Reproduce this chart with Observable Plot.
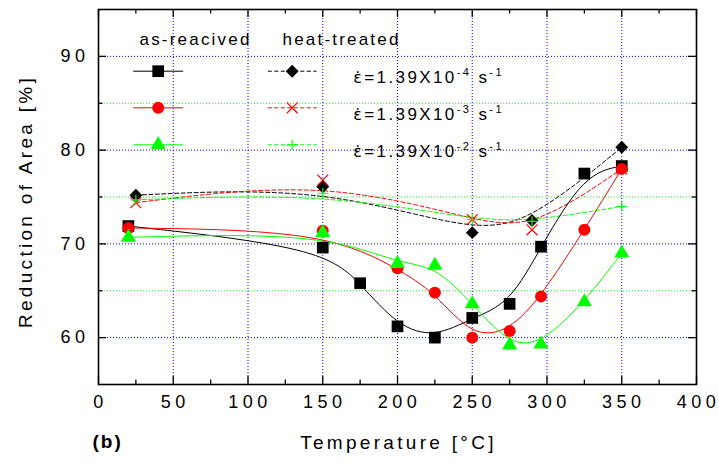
<!DOCTYPE html>
<html>
<head>
<meta charset="utf-8">
<script src="https://cdn.jsdelivr.net/npm/d3@7"></script>
<script src="https://cdn.jsdelivr.net/npm/@observablehq/plot@0.6"></script>
<style>
html, body { margin: 0; padding: 0; background: #fff; }
#chart { width: 719px; height: 469px; }
</style>
</head>
<body>
<div id="chart"></div>
<script>
// ---------------- data ----------------
const arTempBlack = [20, 150, 175, 200, 225, 250, 275, 296, 325, 350];
const arBlack     = [71.9, 69.6, 65.8, 61.2, 60.0, 62.1, 63.6, 69.7, 77.5, 78.3];
const arTempRG    = [20, 150, 200, 225, 250, 275, 296, 325, 350];
const arRed       = [71.7, 71.4, 67.4, 64.8, 60.0, 60.7, 64.4, 71.5, 78.0];
const arGreen     = [70.7, 71.2, 67.9, 67.7, 63.6, 59.2, 59.3, 63.8, 69.0];

const htTemp  = [25, 150, 250, 290, 350];
const htBlack = [75.2, 76.1, 71.2, 72.5, 80.3];
const htRed   = [74.4, 76.8, 72.6, 71.5, 78.0];
const htGreen = [74.7, 75.4, 72.6, 72.4, 74.0];

const groupLabels = ["as-reacived", "heat-treated"];
const strainMantissa = ["1.39", "1.39", "1.39"];
const strainExponent = ["-4", "-3", "-2"];

const xTicks = [0, 50, 100, 150, 200, 250, 300, 350, 400];
const xMinor = [25, 75, 125, 175, 225, 275, 325, 375];
const yTicks = [60, 70, 80, 90];
const yMinor = [65, 75, 85];
const xDomain = [0, 400];
const yDomain = [55, 95];
const xTitle = "Temperature [°C]";
const yTitle = "Reduction of Area [%]";
const panelTag = "(b)";

// ---------------- styles ----------------
const BLACK = "#000000", RED = "#ff0000", GREEN = "#00ff00", BLUE = "#0000ff";
const toRows = (xs, ys) => xs.map((x, i) => ({x, y: ys[i]}));

const asReceived = [
  {rows: toRows(arTempBlack, arBlack), color: BLACK, symbol: "square",   r: 6.6},
  {rows: toRows(arTempRG, arRed),      color: RED,   symbol: "circle",   r: 6.0},
  {rows: toRows(arTempRG, arGreen),    color: GREEN, symbol: "triangle", r: 5.6}
];
const heatTreated = [
  {rows: toRows(htTemp, htBlack), color: BLACK, symbol: "diamond2", r: 5.8, filled: true},
  {rows: toRows(htTemp, htRed),   color: RED,   symbol: "times",    r: 5.0, filled: false},
  {rows: toRows(htTemp, htGreen), color: GREEN, symbol: "plus",     r: 3.4, filled: false}
];

const DASH = "4,2.5";
const segment = (half) => ({draw(ctx) { ctx.moveTo(-half, 0); ctx.lineTo(half, 0); }});

const marks = [];

// grid
marks.push(Plot.ruleX(xTicks.filter(v => v > xDomain[0] && v < xDomain[1]), {stroke: BLUE, strokeWidth: 1, strokeDasharray: "1,2"}));
marks.push(Plot.ruleY(yTicks, {stroke: BLUE, strokeWidth: 1, strokeDasharray: "1,2"}));
marks.push(Plot.ruleY(yMinor, {stroke: GREEN, strokeWidth: 1, strokeDasharray: "1,2"}));

// heat-treated dashed curves
heatTreated.forEach(s => {
  marks.push(Plot.line(s.rows, {x: "x", y: "y", stroke: s.color, strokeWidth: 1, strokeDasharray: DASH, curve: "basis"}));
});
// as-received solid curves
asReceived.forEach(s => {
  marks.push(Plot.line(s.rows, {x: "x", y: "y", stroke: s.color, strokeWidth: 1, curve: "basis"}));
});
heatTreated.forEach(s => {
  marks.push(Plot.dot(s.rows, s.filled
    ? {x: "x", y: "y", symbol: s.symbol, r: s.r, fill: s.color, stroke: "none"}
    : {x: "x", y: "y", symbol: s.symbol, r: s.r, fill: "none", stroke: s.color, strokeWidth: 1.2}));
});
asReceived.forEach(s => {
  marks.push(Plot.dot(s.rows, {x: "x", y: "y", symbol: s.symbol, r: s.r, fill: s.color, stroke: "none"}));
});

// ---------------- legend (pixel layout relative to frame) ----------------
const legendRowsDy = [61.7, 98.3, 135.3];
const EPS = "\u03B5\u0307"; // epsilon with dot above (strain rate)
const strainTexts = strainMantissa.map((m, i) => `${EPS}=${m}X10^${strainExponent[i]} s^-1`);
marks.push(Plot.text([groupLabels[0]], {text: d => d, frameAnchor: "top-left", dx: 41, dy: 23.6, textAnchor: "start", fontSize: 17, fill: BLACK}));
marks.push(Plot.text([groupLabels[1]], {text: d => d, frameAnchor: "top-left", dx: 184, dy: 23.6, textAnchor: "start", fontSize: 17, fill: BLACK}));
legendRowsDy.forEach((dy, i) => {
  const a = asReceived[i], h = heatTreated[i];
  marks.push(Plot.dot([0], {frameAnchor: "top-left", dx: 59.7, dy, symbol: segment(25), fill: "none", stroke: a.color, strokeWidth: 1}));
  marks.push(Plot.dot([0], {frameAnchor: "top-left", dx: 59.7, dy, symbol: a.symbol, r: a.r, fill: a.color, stroke: "none"}));
  marks.push(Plot.dot([0], {frameAnchor: "top-left", dx: 193.7, dy, symbol: segment(24.4), fill: "none", stroke: h.color, strokeWidth: 1, strokeDasharray: DASH}));
  marks.push(Plot.dot([0], {frameAnchor: "top-left", dx: 193.7, dy, symbol: h.symbol, r: h.r,
    fill: h.filled ? h.color : "none", stroke: h.filled ? "none" : h.color, strokeWidth: 1.2}));
  marks.push(Plot.text([strainTexts[i]], {text: d => d, frameAnchor: "top-left", dx: 254.7, dy, textAnchor: "start", fontSize: 17, fill: BLACK}));
});

// ---------------- frame & inward ticks ----------------
marks.push(Plot.frame({stroke: BLACK, strokeWidth: 1.6}));
const TK = 8, TKm = 4.5, TW = 1.3;
marks.push(Plot.ruleX(xTicks, {y1: yDomain[0], y2: yDomain[0], insetTop: -TK, stroke: BLACK, strokeWidth: TW}));
marks.push(Plot.ruleX(xMinor, {y1: yDomain[0], y2: yDomain[0], insetTop: -TKm, stroke: BLACK, strokeWidth: TW}));
marks.push(Plot.ruleX(xTicks, {y1: yDomain[1], y2: yDomain[1], insetBottom: -TK, stroke: BLACK, strokeWidth: TW}));
marks.push(Plot.ruleX(xMinor, {y1: yDomain[1], y2: yDomain[1], insetBottom: -TKm, stroke: BLACK, strokeWidth: TW}));
marks.push(Plot.ruleY(yTicks, {x1: xDomain[0], x2: xDomain[0], insetRight: -TK, stroke: BLACK, strokeWidth: TW}));
marks.push(Plot.ruleY(yMinor, {x1: xDomain[0], x2: xDomain[0], insetRight: -TKm, stroke: BLACK, strokeWidth: TW}));
marks.push(Plot.ruleY(yTicks, {x1: xDomain[1], x2: xDomain[1], insetLeft: -TK, stroke: BLACK, strokeWidth: TW}));
marks.push(Plot.ruleY(yMinor, {x1: xDomain[1], x2: xDomain[1], insetLeft: -TKm, stroke: BLACK, strokeWidth: TW}));

// axes labels
marks.push(Plot.axisX({ticks: xTicks, tickSize: 0, tickPadding: 11, fontSize: 18, label: null, dx: 2, tickFormat: d => String(d)}));
marks.push(Plot.axisY({ticks: yTicks, tickSize: 0, tickPadding: 9, fontSize: 18, label: null, tickFormat: d => String(d)}));

// titles
marks.push(Plot.text([xTitle], {text: d => d, frameAnchor: "bottom", dx: 1, dy: 64, fontSize: 19, textAnchor: "middle", fill: BLACK}));
marks.push(Plot.text([yTitle], {text: d => d, frameAnchor: "left", dx: -73, dy: 4.5, rotate: -90, fontSize: 19, textAnchor: "middle", fill: BLACK}));
marks.push(Plot.text([panelTag], {text: d => d, frameAnchor: "bottom-left", dx: -6, dy: 63, fontSize: 19, fontWeight: "bold", textAnchor: "start", fill: BLACK}));

const svg = Plot.plot({
  width: 719,
  height: 469,
  marginLeft: 98,
  marginTop: 9,
  marginRight: 23,
  marginBottom: 85,
  x: {domain: xDomain},
  y: {domain: yDomain},
  style: {fontFamily: "'Liberation Sans', Arial, sans-serif", background: "#fff", color: "#000"},
  marks
});

// letter spacing per text role (text stays real text), identified by content
const root = d3.select(svg);
root.style("letter-spacing", "4.5px");
root.selectAll("text").each(function() {
  const t = d3.select(this);
  const s = t.text();
  if (s === xTitle || s === yTitle) t.style("letter-spacing", "3.3px");
  else if (s === panelTag) t.style("letter-spacing", "2px");
  else if (groupLabels.includes(s)) t.style("letter-spacing", "2.2px");
  else if (strainTexts.includes(s)) {
    const parts = s.split(/\^(\S+)/); // [base, exp, mid, exp, tail]
    t.text(null).style("letter-spacing", "2.4px");
    let raised = false;
    parts.forEach((p, k) => {
      if (!p) return;
      if (k % 2 === 1) {
        t.append("tspan").attr("dy", raised ? 0 : -7).attr("font-size", 11).text(p);
        raised = true;
      } else if (k === 0) {
        // dotted epsilon rendered with a font that positions the combining dot
        t.append("tspan").attr("font-family", "'DejaVu Sans'").attr("font-size", 16).text(EPS);
        t.append("tspan").text(p.slice(EPS.length));
      } else {
        t.append("tspan").attr("dy", raised ? 7 : 0).text(p);
        raised = false;
      }
    });
  }
});

document.getElementById("chart").appendChild(svg);
</script>
</body>
</html>
